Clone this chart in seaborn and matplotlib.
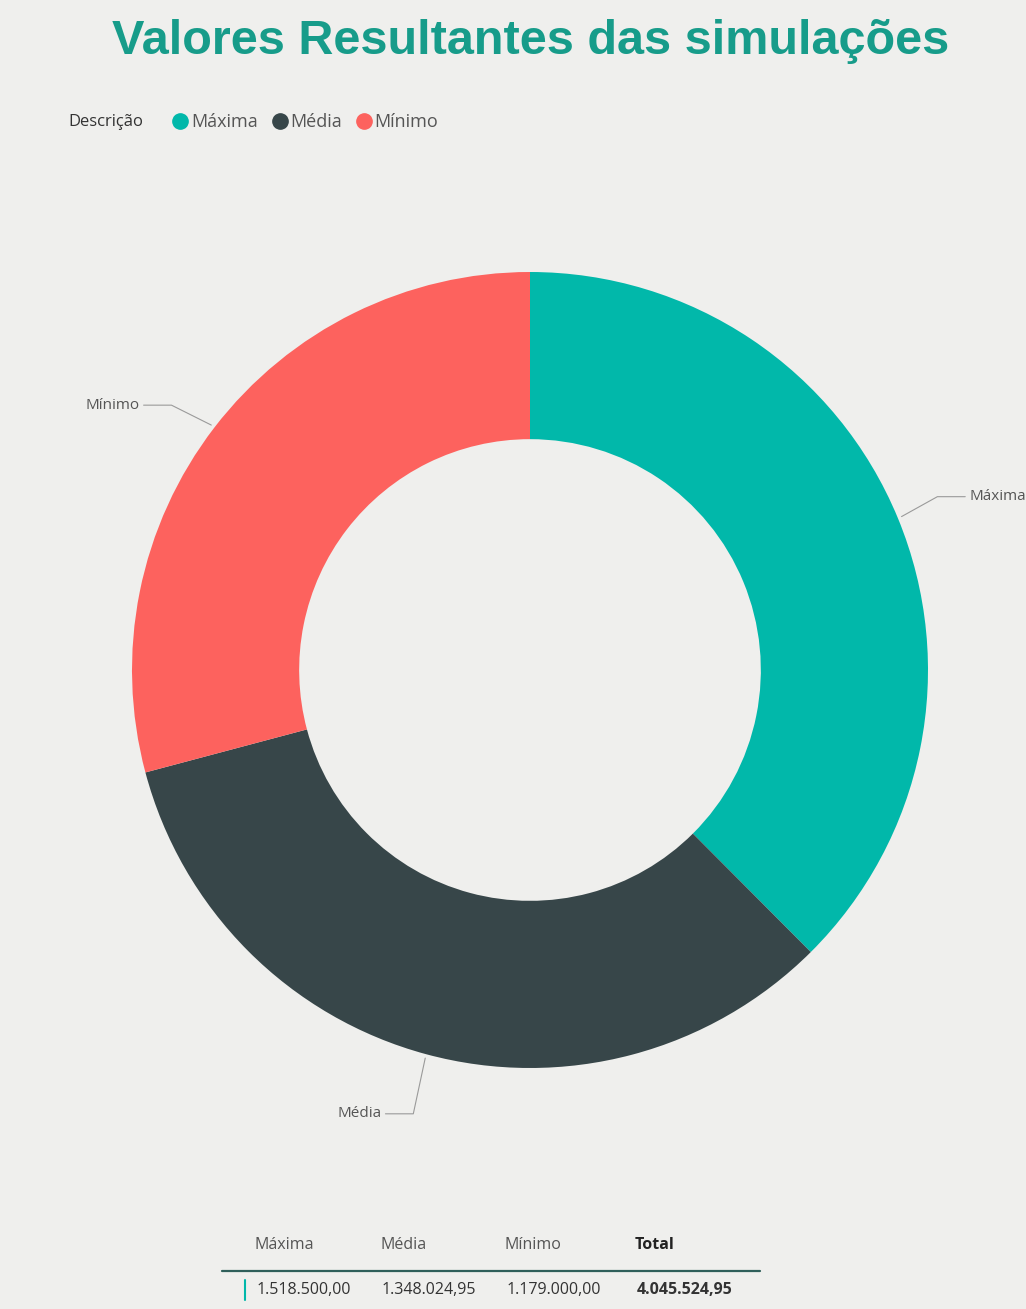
import numpy as np
import pandas as pd
import seaborn as sns
import matplotlib.pyplot as plt
from matplotlib.lines import Line2D

# data
categorias = ["Máxima", "Média", "Mínimo"]
valores = [1518500.00, 1348024.95, 1179000.00]
cores = ["#01B8AA", "#374649", "#FD625E"]

df = pd.DataFrame({"Descrição": categorias, "Valor": valores})


def fmt_br(v):
    s = f"{v:,.2f}"
    return s.replace(",", "X").replace(".", ",").replace("X", ".")


sns.set_theme(style="white")
plt.rcParams["font.family"] = ["Open Sans", "DejaVu Sans"]

bg = "#efefed"
fig = plt.figure(figsize=(10.26, 13.09), dpi=100, facecolor=bg)

# donut axes: centre ~ (530, 670) px, radius ~398 px
W, H = 1026, 1309
cx, cy, r = 530, 670, 398
ax = fig.add_axes([(cx - r) / W, (H - cy - r) / H, 2 * r / W, 2 * r / H])
ax.set_facecolor(bg)

palette = sns.color_palette(cores)
wedges, _ = ax.pie(df["Valor"], colors=palette, startangle=90, counterclock=False,
                   radius=1.0, wedgeprops=dict(width=0.42, linewidth=0))
ax.set_xlim(-1, 1)
ax.set_ylim(-1, 1)
ax.set_aspect("equal")
ax.axis("off")

# outside labels with leader lines
offsets = {"Máxima": (0.16, 0.05, "left"),
           "Média": (-0.1, -0.14, "right"),
           "Mínimo": (-0.17, 0.05, "right")}
for w, cat in zip(wedges, categorias):
    ang = np.deg2rad((w.theta1 + w.theta2) / 2)
    x0, y0 = 1.01 * np.cos(ang), 1.01 * np.sin(ang)
    dx, dy, ha = offsets[cat]
    x1, y1 = x0 + dx, y0 + dy
    xe = x1 + (0.07 if ha == "right" else -0.07)
    ax.plot([x0, xe, x1], [y0, y1, y1], color="#9a9a9a", lw=0.8, clip_on=False)
    ax.text(x1 + (-0.01 if ha == "right" else 0.01), y1, cat, ha=ha, va="center",
            fontsize=11, color="#555555", clip_on=False)

# title
fig.text(0.517, 0.968, "Valores Resultantes das simulações", ha="center", va="center",
         fontsize=35, fontweight="heavy", color="#179c8a", family="Liberation Sans")

# legend
fig.text(68 / W, 1 - 122 / H, "Descrição", ha="left", va="center",
         fontsize=12, color="#333333")
handles = [Line2D([], [], marker="o", ls="", markersize=11, markerfacecolor=c,
                  markeredgecolor=c) for c in cores]
fig.legend(handles, categorias, loc="center left", bbox_to_anchor=(155 / W, 1 - 122 / H),
           ncol=3, frameon=False, handletextpad=0.1, columnspacing=0.7,
           fontsize=13, labelcolor="#555555", handlelength=1.0)

# summary table
cols_x = [255, 380, 505, 635]
heads = categorias + ["Total"]
vals = valores + [sum(valores)]
for xp, h, v in zip(cols_x, heads, vals):
    bold = "bold" if h == "Total" else "normal"
    fig.text(xp / W, 1 - 1245 / H, h, ha="left", va="center", fontsize=11.5,
             color="#222222" if bold == "bold" else "#555555", fontweight=bold)
    fig.text((xp + 2) / W, 1 - 1290 / H, fmt_br(v), ha="left",
             va="center", fontsize=11.5, color="#333333", fontweight=bold)
fig.add_artist(Line2D([222 / W, 760 / W], [1 - 1271 / H, 1 - 1271 / H],
                      color="#2f5f5a", lw=1.6))
fig.add_artist(Line2D([245 / W, 245 / W], [1 - 1280 / H, 1 - 1300 / H],
                      color="#01B8AA", lw=1.5))

fig.savefig("out.png", dpi=100, facecolor=bg)
